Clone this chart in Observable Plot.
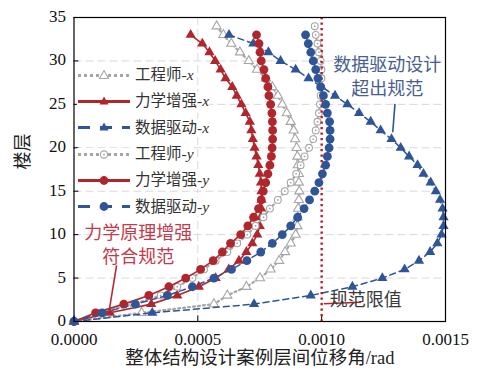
<!DOCTYPE html>
<html><head><meta charset="utf-8">
<script src="https://cdn.jsdelivr.net/npm/d3@7"></script>
<script src="https://cdn.jsdelivr.net/npm/@observablehq/plot@0.6"></script>
<style>
body{margin:0;background:#fff;}
#wrap{position:relative;width:478px;height:387px;font-family:'Liberation Serif','Noto Sans CJK SC',serif;}
#legend{position:absolute;left:77px;top:62px;}
.row{height:26.3px;display:flex;align-items:center;}
.row span{background:#fff;font-size:15.5px;color:#333;line-height:18px;padding-left:3px;}
.row svg{background:#fff;}
</style></head><body><div id="wrap"><div id="plot"></div><div id="legend"></div></div>
<script>
// floors
const floorsEng = d3.range(0, 35);
const floorsOther = d3.range(0, 34);
// inter-storey drift (rad)
const engX = [0,0.000273,0.000565,0.000619,0.000696,0.000751,0.000794,0.000828,0.000852,0.000875,0.000895,0.000902,0.000903,0.000905,0.000908,0.00091,0.000908,0.000908,0.000904,0.000902,0.000899,0.000893,0.000887,0.000875,0.000859,0.000841,0.000823,0.000801,0.000775,0.000739,0.000706,0.00067,0.000635,0.000603,0.000576];
const mechX = [0,0.000145,0.000312,0.000417,0.000504,0.000572,0.000625,0.000666,0.000696,0.00072,0.00074,0.00075,0.000754,0.000756,0.000757,0.000757,0.000755,0.00075,0.000744,0.000737,0.000729,0.000722,0.000716,0.00071,0.000693,0.000676,0.000657,0.000639,0.000612,0.000592,0.00057,0.000547,0.000518,0.000471];
const dataX = [0,0.000316,0.000727,0.000956,0.001124,0.001245,0.001335,0.001393,0.001438,0.001467,0.001484,0.001492,0.001492,0.001488,0.001478,0.001461,0.00144,0.001411,0.001387,0.001353,0.001319,0.001282,0.001238,0.001198,0.001151,0.001104,0.001054,0.001,0.000947,0.000895,0.000834,0.000785,0.000724,0.000626];
const engY = [0,0.0001,0.00024,0.00035,0.000417,0.000478,0.000525,0.000572,0.000619,0.000659,0.0007,0.000733,0.000765,0.000791,0.000823,0.000851,0.000875,0.000897,0.000915,0.000931,0.000949,0.000966,0.000976,0.000983,0.000989,0.000993,0.000996,0.000998,0.000999,0.000999,0.000996,0.000989,0.000983,0.000976,0.000972];
const mechY = [0,0.000087,0.000201,0.000302,0.000383,0.000451,0.000511,0.000562,0.000599,0.000632,0.000673,0.000702,0.000725,0.000745,0.000756,0.000764,0.000774,0.000783,0.000791,0.000797,0.0008,0.000802,0.000802,0.000801,0.000799,0.000794,0.000787,0.000783,0.000774,0.000767,0.000756,0.000751,0.000747,0.000737];
const dataY = [0,0.000114,0.000248,0.000377,0.000478,0.000565,0.000636,0.000698,0.000754,0.000801,0.000841,0.000875,0.000903,0.000929,0.000951,0.000972,0.000989,0.001003,0.001016,0.001023,0.00103,0.001034,0.001034,0.001032,0.001023,0.001016,0.001007,0.000996,0.000985,0.000976,0.000966,0.000956,0.000946,0.000935];
const seriesNames = ["工程师","力学增强","数据驱动"];
const xTicks = [0, 0.0005, 0.001, 0.0015];
const yTicks = [0, 5, 10, 15, 20, 25, 30, 35];
const limitValue = 0.001;

const GRAY = "#a6a6a6", RED = "#b0262d", BLUE = "#2f5597";
const styles = {
  "工程师": {stroke: GRAY, dash: "2,3", width: 2.2, fill: "#fff", mstroke: GRAY},
  "力学增强": {stroke: RED, dash: null, width: 1.6, fill: RED, mstroke: "none"},
  "数据驱动": {stroke: BLUE, dash: "6,4", width: 1.5, fill: BLUE, mstroke: "none"}
};
const table = (vals, floors) => vals.map((v, i) => ({x: v, y: floors[i]}));
const series = [
  {name: "工程师", dir: "x", data: table(engX, floorsEng), sym: "triangle"},
  {name: "力学增强", dir: "x", data: table(mechX, floorsOther), sym: "triangle"},
  {name: "数据驱动", dir: "x", data: table(dataX, floorsOther), sym: "triangle"},
  {name: "工程师", dir: "y", data: table(engY, floorsEng), sym: "circle"},
  {name: "力学增强", dir: "y", data: table(mechY, floorsOther), sym: "circle"},
  {name: "数据驱动", dir: "y", data: table(dataY, floorsOther), sym: "circle"}
];

function seriesMarks(s) {
  const st = styles[s.name];
  const open = s.name === "工程师";
  const r = s.sym === "triangle" ? (open ? 3.4 : 3.8) : (open ? 3.4 : 4.4);
  const m = [
    Plot.line(s.data, {x: "x", y: "y", stroke: st.stroke, strokeWidth: st.width, strokeDasharray: st.dash}),
    Plot.dot(s.data, {x: "x", y: "y", symbol: s.sym, r, fill: st.fill, stroke: st.mstroke, strokeWidth: 1.1})
  ];
  if (open && s.sym === "circle") m.push(Plot.dot(s.data, {x: "x", y: "y", r: 0.9, fill: GRAY}));
  return m;
}

const FONT = "'Liberation Serif','Noto Sans CJK SC',serif";
const annotations = [
  {x: 0.001265, y: 28.3, text: "数据驱动设计\n超出规范", color: "#4a5f8f", anchor: "middle"},
  {x: 0.000259, y: 9.0, text: "力学原理增强\n符合规范", color: "#c23a4c", anchor: "middle"},
  {x: 0.001178, y: 2.65, text: "规范限值", color: "#3a3a3a", anchor: "start"}
];
const callouts = [
  {x1: 0.001296, y1: 25.06, x2: 0.001287, y2: 21.79, color: BLUE},
  {x1: 0.000172, y1: 6.45, x2: 0.000141, y2: 1.07, color: "#b52a37"},
  {x1: 0.001009, y1: 2.04, x2: 0.001158, y2: 2.22, color: RED}
];

const chart = Plot.plot({
  width: 478, height: 387,
  marginLeft: 73.5, marginRight: 33, marginTop: 17, marginBottom: 66,
  style: {fontFamily: FONT, background: "#fff"},
  x: {domain: [0, 0.0015]},
  y: {domain: [0, 35]},
  marks: [
    Plot.ruleY(yTicks.filter(d => d > 0 && d < 35), {stroke: "#d9d9d9", strokeDasharray: "8,4", strokeWidth: 1}),
    Plot.ruleX([0.0005], {stroke: "#d9d9d9", strokeDasharray: "8,4", strokeWidth: 1}),
    Plot.axisX(xTicks, {tickSize: 0, tickPadding: 11, tickFormat: d => d.toFixed(4), fontSize: 17, fill: "#111", label: null}),
    Plot.axisY(yTicks, {tickSize: 0, tickPadding: 8, fontSize: 17, fill: "#111", label: null, dy: -1}),
    Plot.ruleX(xTicks.slice(1, 3), {y1: 0, y2: 0.65, stroke: "#000", strokeWidth: 1}),
    Plot.ruleY(yTicks.slice(1), {x1: 0, x2: 0.00002, stroke: "#000", strokeWidth: 1}),
    ...seriesMarks(series[0]), ...seriesMarks(series[1]), ...seriesMarks(series[2]), ...seriesMarks(series[3]),
    Plot.ruleX([limitValue], {stroke: "#b81d24", strokeWidth: 2.4, strokeDasharray: "2.2,3.3"}),
    ...seriesMarks(series[4]), ...seriesMarks(series[5]),
    Plot.frame({stroke: "#000", strokeWidth: 1.2}),
    Plot.link(callouts, {x1: "x1", y1: "y1", x2: "x2", y2: "y2", stroke: "color", strokeWidth: 1.6}),
    Plot.text(annotations, {x: "x", y: "y", text: "text", fill: "color", textAnchor: "anchor", fontSize: 18, lineHeight: 1.3, fontFamily: FONT}),
    Plot.text(["楼层"], {frameAnchor: "left", dx: -51, rotate: -90, fontSize: 18, fill: "#222"}),
    Plot.text(["整体结构设计案例层间位移角/rad"], {frameAnchor: "bottom", dy: 42, fontSize: 18.5, fill: "#222"})
  ]
});
document.getElementById("plot").appendChild(chart);

// legend
const legend = document.getElementById("legend");
for (const s of series) {
  const st = styles[s.name];
  const row = document.createElement("div");
  row.className = "row";
  const open = s.name === "工程师";
  let marker;
  if (s.sym === "triangle") {
    marker = `<path d="M27,1.5 L31.5,9.5 L22.5,9.5 Z" fill="${st.fill}" stroke="${st.mstroke}" stroke-width="1.1"/>`;
  } else {
    marker = open
      ? `<circle cx="27" cy="6.5" r="3.6" fill="#fff" stroke="${GRAY}" stroke-width="1.1"/><circle cx="27" cy="6.5" r="0.9" fill="${GRAY}"/>`
      : `<circle cx="27" cy="6.5" r="4.4" fill="${st.fill}"/>`;
  }
  row.innerHTML = `<svg width="55" height="13"><line x1="1" x2="53" y1="6.5" y2="6.5" stroke="${st.stroke}" stroke-width="${open ? 3 : 3.2}" ${st.dash ? `stroke-dasharray="${open ? '3,3' : '12,10'}"` : ""}/>${marker}</svg><span>${s.name}-<i style="font-family:'Liberation Serif'">${s.dir}</i></span>`;
  legend.appendChild(row);
}
</script></body></html>
